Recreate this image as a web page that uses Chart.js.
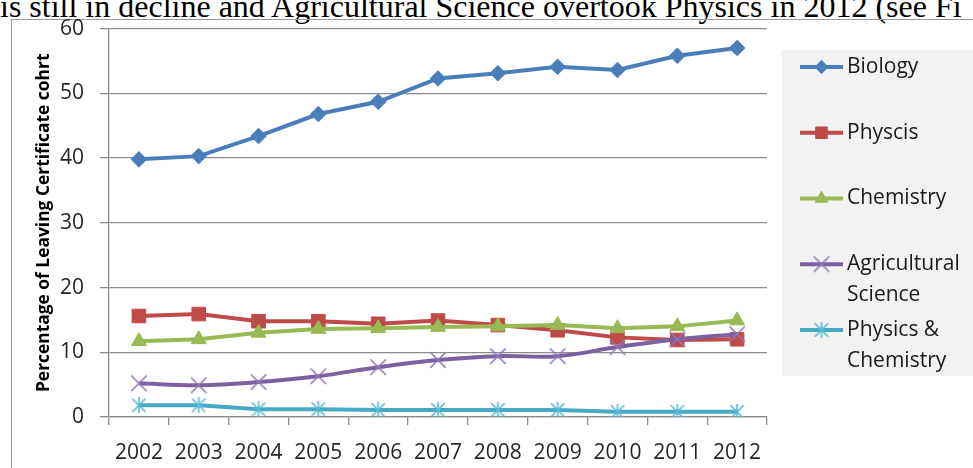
<!DOCTYPE html>
<html>
<head>
<meta charset="utf-8">
<script src="https://cdn.jsdelivr.net/npm/chart.js@4.4.1/dist/chart.umd.min.js"></script>
<style>
  html, body { margin: 0; padding: 0; background: #fff; overflow: hidden; }
  #wrap { position: relative; width: 973px; height: 468px; overflow: hidden; }
  #cap {
    position: absolute; left: 0; top: -10px;
    font-family: "Liberation Serif", "Times New Roman", serif;
    font-size: 32px; line-height: 32px; white-space: nowrap; color: #000;
  }
  #frameTop { position: absolute; left: 11px; top: 19px; width: 962px; height: 1px; background: #9a9a9a; }
  #frameLeft { position: absolute; left: 11px; top: 19px; width: 1px; height: 449px; background: #9a9a9a; }
  #chart { position: absolute; left: 0; top: 0; }
</style>
</head>
<body>
<div id="wrap">
  <div id="cap">is still in decline and Agricultural Science overtook Physics in 2012 (see Fi</div>
  <div id="frameTop"></div>
  <div id="frameLeft"></div>
  <canvas id="chart" width="973" height="468"></canvas>
</div>
<script>
// Leaving Certificate uptake by subject, % of cohort
const years = ['2002', '2003', '2004', '2005', '2006', '2007', '2008', '2009', '2010', '2011', '2012'];
const biology    = [39.8, 40.3, 43.4, 46.8, 48.7, 52.3, 53.1, 54.1, 53.6, 55.8, 57.0];
const physcis    = [15.6, 15.9, 14.8, 14.8, 14.4, 14.9, 14.2, 13.4, 12.3, 11.9, 12.0];
const chemistry  = [11.7, 12.0, 13.0, 13.6, 13.7, 13.9, 14.0, 14.2, 13.7, 14.0, 14.9];
const agScience  = [5.2, 4.9, 5.4, 6.3, 7.7, 8.8, 9.4, 9.4, 10.8, 12.0, 12.8];
const physChem   = [1.8, 1.8, 1.2, 1.2, 1.1, 1.1, 1.1, 1.1, 0.8, 0.8, 0.8];
const yTicks     = [0, 10, 20, 30, 40, 50, 60];
const seriesNames = ['Biology', 'Physcis', 'Chemistry', 'Agricultural Science', 'Physics & Chemistry'];
const yTitle = 'Percentage of Leaving Certificate cohrt';

const FONT = '"Open Sans", "Noto Sans", sans-serif';

// Excel-style cross / asterisk markers drawn onto small canvases
function strokeMarker(color, size, lw, withVertical) {
  const c = document.createElement('canvas');
  c.width = size; c.height = size;
  const g = c.getContext('2d');
  g.strokeStyle = color; g.lineWidth = lw;
  const m = lw / 2 + 0.5;
  g.beginPath();
  g.moveTo(m, m); g.lineTo(size - m, size - m);
  g.moveTo(size - m, m); g.lineTo(m, size - m);
  if (withVertical) { g.moveTo(size / 2, 0); g.lineTo(size / 2, size); }
  g.stroke();
  return c;
}
const xMarker = strokeMarker('#8f78b6', 18, 1.6, false);
const starMarker = strokeMarker('#5bbad4', 16, 1.6, true);

function ds(label, data, color, style, radius, order, tension) {
  return {
    label, data,
    borderColor: color, backgroundColor: color,
    borderWidth: 4,
    pointStyle: style, pointRadius: radius, pointHoverRadius: radius,
    pointBackgroundColor: color, pointBorderColor: color, pointBorderWidth: 1,
    tension: tension || 0, order, fill: false
  };
}

const datasets = [
  ds(seriesNames[0], biology,   '#4a7ebb', 'rectRot',  7.8, 5),
  ds(seriesNames[1], physcis,   '#be4b48', 'rect',     9.6, 4),
  ds(seriesNames[2], chemistry, '#98b954', 'triangle', 8.6, 3),
  ds(seriesNames[3], agScience, '#7d60a0', xMarker,    8,   2, 0.35),
  ds(seriesNames[4], physChem,  '#46aac5', starMarker, 8,   1)
];

// Rotated bold axis title, centred on the plot height
const axisTitle = {
  id: 'axisTitle',
  afterDraw(chart) {
    const { ctx, chartArea } = chart;
    ctx.save();
    ctx.translate(44, (chartArea.top + chartArea.bottom) / 2);
    ctx.rotate(-Math.PI / 2);
    ctx.font = 'bold 17.4px ' + FONT;
    ctx.fillStyle = '#000';
    ctx.textAlign = 'center';
    ctx.textBaseline = 'middle';
    ctx.fillText(yTitle, 0, 0);
    ctx.restore();
  }
};

// Grey legend panel on the right, entries wrapped to the panel width
const sideLegend = {
  id: 'sideLegend',
  afterDraw(chart) {
    const ctx = chart.ctx;
    ctx.save();
    ctx.fillStyle = '#f2f2f2';
    ctx.fillRect(782, 50, 191, 326);
    ctx.font = '21px ' + FONT;
    ctx.textBaseline = 'middle';
    const lineX0 = 800, lineX1 = 843, textX = 847, maxW = 124;
    const firstY = 67, step = 65.75, lineGap = 31;
    chart.data.datasets.forEach((d, i) => {
      const y = firstY + i * step;
      ctx.strokeStyle = d.borderColor;
      ctx.lineWidth = 4;
      ctx.beginPath(); ctx.moveTo(lineX0, y); ctx.lineTo(lineX1, y); ctx.stroke();
      ctx.fillStyle = d.backgroundColor;
      ctx.lineWidth = 1;
      Chart.helpers.drawPoint(ctx, {
        pointStyle: d.pointStyle, radius: d.pointRadius * 0.85, rotation: 0, borderWidth: 1
      }, (lineX0 + lineX1) / 2, y);
      const words = d.label.split(' ');
      const lines = []; let cur = '';
      words.forEach(w => {
        const t = cur ? cur + ' ' + w : w;
        if (ctx.measureText(t).width > maxW && cur) { lines.push(cur); cur = w; } else { cur = t; }
      });
      lines.push(cur);
      ctx.fillStyle = '#1a1a1a';
      lines.forEach((l, k) => ctx.fillText(l, textX, y + k * lineGap));
    });
    ctx.restore();
  }
};

Chart.defaults.font.family = FONT;

new Chart(document.getElementById('chart'), {
  type: 'line',
  data: { labels: years, datasets },
  options: {
    responsive: false,
    animation: false,
    events: [],
    layout: { padding: { top: 27.7, right: 206, left: 0, bottom: 0 } },
    plugins: { legend: { display: false }, tooltip: { enabled: false } },
    scales: {
      x: {
        type: 'category',
        offset: true,
        grid: { offset: true, drawOnChartArea: false, drawTicks: true, tickLength: 8, color: '#8c8c8c', lineWidth: 1.3 },
        border: { color: '#8c8c8c', width: 1.3 },
        ticks: { color: '#262626', font: { family: FONT, size: 21 }, padding: 15, maxRotation: 0, autoSkip: false },
        afterFit(s) { s.height = 51; }
      },
      y: {
        min: 0, max: 60,
        afterBuildTicks(s) { s.ticks = yTicks.map(v => ({ value: v })); },
        grid: { color: '#8c8c8c', lineWidth: 1.3, tickLength: 9 },
        border: { color: '#8c8c8c', width: 1.3 },
        ticks: { color: '#262626', font: { family: FONT, size: 21 }, padding: 16 },
        afterFit(s) { s.width = 109; }
      }
    }
  },
  plugins: [axisTitle, sideLegend]
});
</script>
</body>
</html>
